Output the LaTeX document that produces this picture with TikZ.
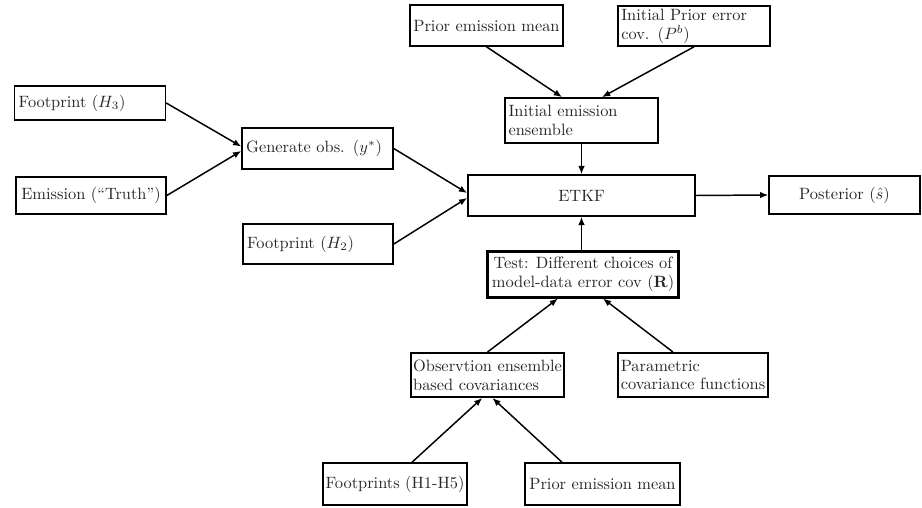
\documentclass[tikz,border=0pt]{standalone}
\usetikzlibrary{arrows.meta}
\begin{document}
\begin{tikzpicture}[x=0.61pt,y=-0.61pt,
  box/.style={draw, line width=1pt, inner xsep=1.5pt, inner ysep=1.5pt, align=left, text=black!85, font=\fontsize{10}{11.5}\selectfont},
  thickbox/.style={box, line width=1.8pt},
  arr/.style={-{Latex[length=5pt,width=4pt]}, line width=0.9pt}]
\useasboundingbox (0,0) rectangle (922,508);
% top
\node[box, minimum width=93.3pt, minimum height=25pt] (pm1) at (486.5,25.5) {Prior emission mean};
\node[box, text width=88.7pt, minimum height=24.4pt, inner xsep=2pt] (pb) at (694,26) {Initial Prior error\\cov. ($P^b$)};
\node[box, text width=89pt, minimum height=27.5pt, inner xsep=2pt] (ie) at (581.5,120.5) {Initial emission\\ensemble};
% left
\node[box, text width=87pt, minimum height=21pt, inner xsep=2.5pt] (h3) at (90,103) {Footprint ($H_3$)};
\node[box, minimum width=91.5pt, minimum height=22.5pt] (truth) at (91,195.5) {Emission (``Truth'')};
\node[box, text width=87pt, minimum height=25pt, inner xsep=2.5pt] (gen) at (317.5,148.5) {Generate obs. ($y^*$)};
\node[box, text width=86.5pt, minimum height=24.4pt, inner xsep=2.5pt] (h2) at (318,244) {Footprint ($H_2$)};
% middle
\node[box, align=center, minimum width=138.5pt, minimum height=25pt] (etkf) at (581.5,195.5) {ETKF};
\node[box, align=center, minimum width=92pt, minimum height=23pt] (post) at (844.5,195) {Posterior ($\hat{s}$)};
\node[thickbox, align=center, minimum width=117pt, minimum height=27.5pt] (test) at (583,274.5) {Test: Different choices of\\model-data error cov ($\mathbf{R}$)};
% lower
\node[box, minimum width=92pt, minimum height=27pt] (obs) at (487.5,375) {Observtion ensemble\\based covariances};
\node[box, minimum width=91.5pt, minimum height=27pt] (param) at (693,375) {Parametric\\covariance functions};
\node[box, minimum width=88pt, minimum height=25.6pt] (fp) at (395,484) {Footprints (H1-H5)};
\node[box, minimum width=94.5pt, minimum height=25.6pt] (pm2) at (602.5,484) {Prior emission mean};
% connectors
\draw[arr] (pm1.south) -- ([xshift=-11.9pt]ie.north);
\draw[arr] (pb.south) -- ([xshift=12.5pt]ie.north);
\draw[arr] (ie.south) -- (etkf.north);
\draw[arr] (h3.east) -- ([yshift=1.2pt]gen.west);
\draw[arr] (truth.east) -- ([yshift=-1.5pt]gen.west);
\draw[arr] (gen.east) -- ([yshift=1.5pt]etkf.west);
\draw[arr] (h2.east) -- ([yshift=-1.5pt]etkf.west);
\draw[arr] (etkf.east) -- (post.west);
\draw[arr] (test.north -| etkf.south) -- (etkf.south);
\draw[arr] (obs.north) -- ([xshift=-15.3pt]test.south);
\draw[arr] ([xshift=-12.2pt]param.north) -- ([xshift=12.2pt]test.south);
\draw[arr] ([xshift=10.4pt]fp.north) -- ([xshift=-3.2pt]obs.south);
\draw[arr] ([xshift=-24.7pt]pm2.north) -- ([xshift=3pt]obs.south);
\end{tikzpicture}
\end{document}
